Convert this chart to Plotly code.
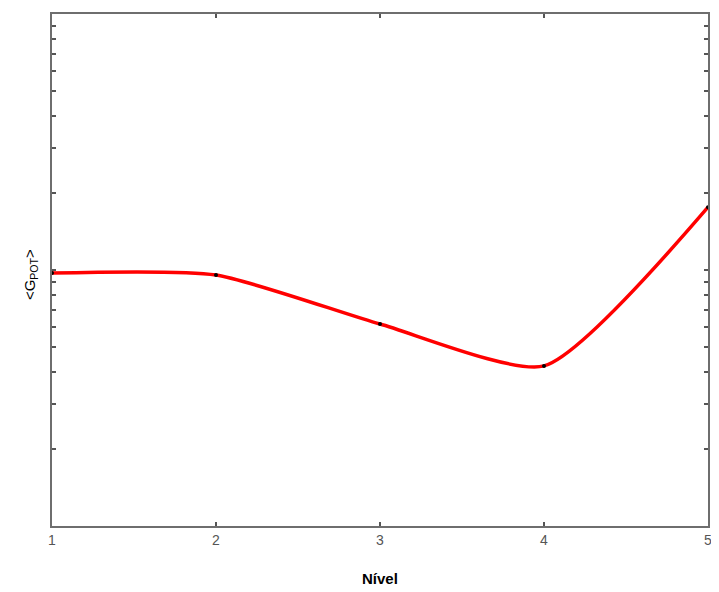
import plotly.graph_objects as go

nivel = [1, 2, 3, 4, 5]
g_pot = [9.73, 9.56, 6.15, 4.22, 17.6]
x_tick_labels = ["1", "2", "3", "4", "5"]

y_tickvals = [m * 10 ** e for e in (0, 1) for m in range(1, 10)] + [100]

fig = go.Figure()
fig.add_trace(go.Scatter(
    x=nivel, y=g_pot, mode="lines",
    line=dict(color="#ff0000", width=3.5, shape="spline", smoothing=0.6),
    hoverinfo="skip", showlegend=False,
))
fig.add_trace(go.Scatter(
    x=nivel, y=g_pot, mode="markers",
    marker=dict(color="black", size=4),
    showlegend=False,
))

axis_common = dict(
    showline=True, linecolor="#6e6e6e", linewidth=2, mirror="ticks",
    ticks="inside", tickcolor="#555555", ticklen=4, tickwidth=2,
    showgrid=False, zeroline=False, automargin=False,
)

# page body has an 8px margin, so the figure is sized/offset to compensate
fig.update_layout(
    width=711, height=584,
    margin=dict(l=44, r=11, t=6, b=66),
    paper_bgcolor="white", plot_bgcolor="white",
    font=dict(family="Liberation Sans, Arial, sans-serif", size=14),
    xaxis=dict(
        range=[1, 5], tickvals=nivel, ticktext=x_tick_labels,
        tickfont=dict(size=14, color="#555555"),
        **axis_common,
    ),
    yaxis=dict(
        type="log", range=[0, 2], tickvals=y_tickvals, showticklabels=False,
        **axis_common,
    ),
    annotations=[
        dict(text="<b>Nível</b>", x=0.5, y=-(578 - 526) / (526 - 14),
             xref="paper", yref="paper", showarrow=False,
             font=dict(size=15, color="black"),
             xanchor="center", yanchor="middle"),
        dict(text="&lt;G<sub>POT</sub>&gt;", xref="paper", yref="paper",
             x=0, y=0.49, xshift=-22, showarrow=False, textangle=-90,
             font=dict(size=15, color="black"),
             xanchor="center", yanchor="middle"),
    ],
)

fig.write_html("out.html")
